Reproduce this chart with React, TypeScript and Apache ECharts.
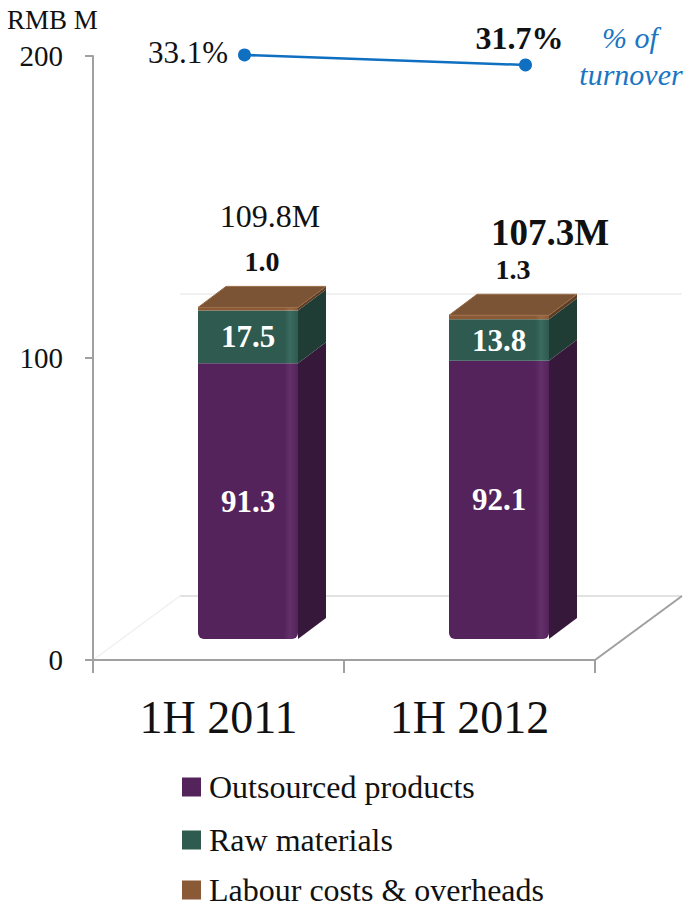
import React, { useEffect, useRef } from "react";
import * as echarts from "echarts";

// ---------- data ----------
const categories = ["1H 2011", "1H 2012"];
const seriesNames = ["Outsourced products", "Raw materials", "Labour costs & overheads"];
const outsourced = [91.3, 92.1];
const rawMaterials = [17.5, 13.8];
const labour = [1.0, 1.3];
const totals = [109.8, 107.3];
const turnoverPct = [33.1, 31.7];
const yMin = 0;
const yMax = 200;
const yInterval = 100;

// ---------- styles ----------
const FONT = "'Liberation Serif', 'Times New Roman', serif";
const DX = 29.5; // front face offset inside 3D floor
const DY = -21;
const SX = 28; // side depth
const SY = -21;
const HALF = 50;

const palette = [
  { front: "#55235b", hi: "#63306a", side: "#36183a", legend: "#55235b" },
  { front: "#2e5a50", hi: "#3b6a5f", side: "#1f3c35", legend: "#2e5a50" },
  { front: "#8a5a36", hi: "#9a6a44", side: "#5e3d25", top: "#7b5335", legend: "#8a5a36" },
];

const totalLabelStyle = [
  { dx: 8, dy: -70, weight: "normal", size: 32 },
  { dx: 37, dy: -62, weight: "bold", size: 37 },
];

const legendRowTops = [771, 824, 874];

function buildRender(idx: number) {
  const col = palette[idx];
  return (params: any, api: any) => {
    const i = api.value(0);
    const lo = api.coord([i, api.value(1)]);
    const hi = api.coord([i, api.value(2)]);
    const v = api.value(3);
    const x0 = lo[0] + DX - HALF;
    const x1 = lo[0] + DX + HALF;
    const yb = lo[1] + DY;
    const yt = hi[1] + DY;
    const grad = new echarts.graphic.LinearGradient(0, 0, 1, 0, [
      { offset: 0, color: col.front },
      { offset: 0.86, color: col.front },
      { offset: 0.92, color: col.hi },
      { offset: 1, color: col.front },
    ]);
    const children: any[] = [
      {
        type: "rect",
        shape: { x: x0, y: yt, width: x1 - x0, height: yb - yt, r: idx === 0 ? [0, 0, 6, 6] : 0 },
        style: { fill: grad },
      },
      {
        type: "polygon",
        shape: {
          points: [
            [x1, yb],
            [x1, yt],
            [x1 + SX, yt + SY],
            [x1 + SX, yb + SY],
          ],
        },
        style: { fill: col.side },
      },
    ];
    if (idx === 2) {
      children.push({
        type: "polygon",
        shape: {
          points: [
            [x0, yt],
            [x1, yt],
            [x1 + SX, yt + SY],
            [x0 + SX, yt + SY],
          ],
        },
        style: { fill: col.top, stroke: "#9a6d48", lineWidth: 1 },
      });
      children.push({
        type: "text",
        x: lo[0] + DX + SX / 2,
        y: yt + SY - 25,
        style: {
          text: v.toFixed(1),
          fill: "#111",
          font: `bold 28px ${FONT}`,
          align: "center",
          verticalAlign: "middle",
          textAlign: "center",
          textVerticalAlign: "middle",
        },
      });
      const ts = totalLabelStyle[params.dataIndex];
      children.push({
        type: "text",
        x: lo[0] + DX + SX / 2 + ts.dx,
        y: yt + SY + ts.dy,
        style: {
          text: totals[params.dataIndex].toFixed(1) + "M",
          fill: "#111",
          font: `${ts.weight} ${ts.size}px ${FONT}`,
          align: "center",
          verticalAlign: "middle",
          textAlign: "center",
          textVerticalAlign: "middle",
        },
      });
    } else {
      children.push({
        type: "text",
        x: (x0 + x1) / 2,
        y: (yt + yb) / 2,
        style: {
          text: v.toFixed(1),
          fill: "#ffffff",
          font: `bold 31px ${FONT}`,
          align: "center",
          verticalAlign: "middle",
          textAlign: "center",
          textVerticalAlign: "middle",
        },
      });
    }
    return { type: "group", children };
  };
}

function stackData() {
  const segs = [outsourced, rawMaterials, labour];
  const base = categories.map(() => 0);
  return segs.map((seg) =>
    seg.map((v, i) => {
      const lo = base[i];
      base[i] = lo + v;
      return [i, lo, lo + v, v];
    })
  );
}

const lineLabelStyle = [
  { position: "left", distance: 10, fontWeight: "normal", fontSize: 31, offset: [0, -2] },
  { position: "top", distance: 4, fontWeight: "bold", fontSize: 32, offset: [-6, 0] },
];

export default function App() {
  const ref = useRef<HTMLDivElement>(null);
  useEffect(() => {
    document.body.style.margin = "0";
    if (!ref.current) return;
    const chart = echarts.init(ref.current, undefined, { renderer: "svg" });
    const stacks = stackData();

    // grid geometry (floor / back wall decoration)
    const gL = 93, gR = 595, gB = 660, gT = 56;
    const FX = 87, FY = -64;
    const y100 = gB - ((100 - yMin) / (yMax - yMin)) * (gB - gT);

    chart.setOption({
      animation: false,
      backgroundColor: "#ffffff",
      textStyle: { fontFamily: FONT },
      grid: [
        { left: gL, top: gT, right: 692 - gR, bottom: 909 - gB, containLabel: false },
        { left: 104, width: 562, top: 41.4, height: 35.7 },
      ],
      legend: seriesNames.map((name, k) => ({
        orient: "vertical",
        left: 182,
        top: legendRowTops[k],
        padding: 0,
        itemWidth: 19,
        itemHeight: 19,
        icon: "rect",
        selectedMode: false,
        data: [name],
        textStyle: { fontFamily: FONT, fontSize: 32, color: "#111", lineHeight: 32, padding: [0, 0, 0, 3] },
      })),
      xAxis: [
        {
          type: "category",
          gridIndex: 0,
          data: categories,
          boundaryGap: true,
          axisLine: { lineStyle: { color: "#a0a0a0", width: 2 } },
          axisTick: { show: true, length: 13, lineStyle: { color: "#a0a0a0", width: 2 } },
          axisLabel: { fontFamily: FONT, fontSize: 46, color: "#111", margin: 34 },
          splitLine: { show: false },
        },
        {
          type: "category",
          gridIndex: 1,
          data: categories,
          show: false,
        },
      ],
      yAxis: [
        {
          type: "value",
          gridIndex: 0,
          min: yMin,
          max: yMax,
          interval: yInterval,
          name: "RMB M",
          nameLocation: "end",
          nameGap: 36,
          nameTextStyle: {
            fontFamily: FONT,
            fontSize: 27,
            color: "#111",
            align: "left",
            verticalAlign: "middle",
            padding: [0, 0, 0, -86],
          },
          axisLine: { show: true, lineStyle: { color: "#a0a0a0", width: 2 } },
          axisTick: { show: true, length: 8, lineStyle: { color: "#a0a0a0", width: 2 } },
          axisLabel: { fontFamily: FONT, fontSize: 29, color: "#111", margin: 30 },
          splitLine: { show: false },
        },
        {
          type: "value",
          gridIndex: 1,
          min: 30,
          max: 35,
          show: false,
          splitLine: { show: false },
        },
      ],
      graphic: [
        // back wall gridline at 100
        { type: "line", silent: true, shape: { x1: gL + FX, y1: y100 + FY, x2: gR + FX, y2: y100 + FY }, style: { stroke: "#ececec", lineWidth: 1.5 }, z: -1 },
        // back floor edge
        { type: "line", silent: true, shape: { x1: gL + FX, y1: gB + FY, x2: gR + FX, y2: gB + FY }, style: { stroke: "#d8d8d8", lineWidth: 1.5 }, z: -1 },
        // left floor diagonal (faint)
        { type: "line", silent: true, shape: { x1: gL, y1: gB, x2: gL + FX, y2: gB + FY }, style: { stroke: "#f0f0f0", lineWidth: 1.5 }, z: -1 },
        // right floor diagonal
        { type: "line", silent: true, shape: { x1: gR, y1: gB, x2: gR + FX, y2: gB + FY }, style: { stroke: "#a0a0a0", lineWidth: 2 }, z: -1 },
        {
          type: "text",
          x: 630,
          y: 37,
          style: { text: "% of", fill: "#1a75c2", font: `italic 30px ${FONT}`, align: "center", verticalAlign: "middle", textAlign: "center", textVerticalAlign: "middle" },
        },
        {
          type: "text",
          x: 631,
          y: 74,
          style: { text: "turnover", fill: "#1a75c2", font: `italic 30px ${FONT}`, align: "center", verticalAlign: "middle", textAlign: "center", textVerticalAlign: "middle" },
        },
      ],
      series: [
        ...stacks.map((d, k) => ({
          type: "custom",
          name: seriesNames[k],
          xAxisIndex: 0,
          yAxisIndex: 0,
          data: d,
          encode: { x: 0, y: [1, 2] },
          itemStyle: { color: palette[k].legend },
          renderItem: buildRender(k),
          z: 2 + k,
        })),
        {
          type: "line",
          name: "% of turnover",
          xAxisIndex: 1,
          yAxisIndex: 1,
          data: turnoverPct.map((v, i) => ({
            value: v,
            label: {
              show: true,
              position: lineLabelStyle[i].position,
              distance: lineLabelStyle[i].distance,
              offset: lineLabelStyle[i].offset,
              fontWeight: lineLabelStyle[i].fontWeight,
              fontSize: lineLabelStyle[i].fontSize,
              fontFamily: FONT,
              color: "#111",
              formatter: "{c}%",
            },
          })),
          symbol: "circle",
          symbolSize: 13,
          lineStyle: { color: "#0f6fc0", width: 2.5 },
          itemStyle: { color: "#0f6fc0" },
          z: 10,
        },
      ],
    });
    return () => chart.dispose();
  }, []);
  return <div ref={ref} style={{ width: 692, height: 909 }} />;
}
